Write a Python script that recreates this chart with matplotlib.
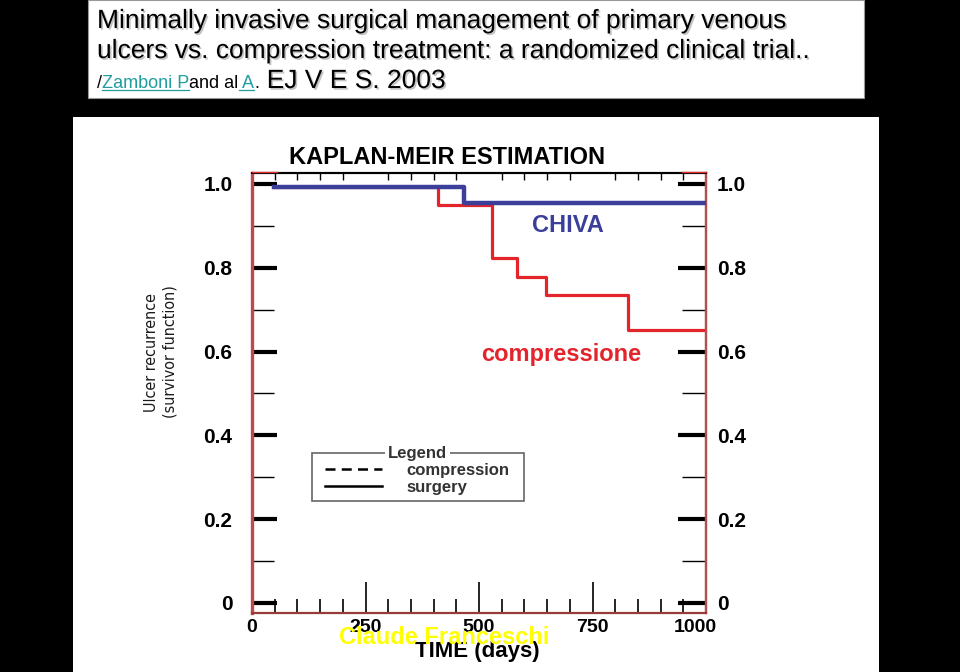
import matplotlib
matplotlib.use('Agg')
import matplotlib.pyplot as plt
import matplotlib.patheffects as pe
from matplotlib.patches import Rectangle
from matplotlib.lines import Line2D
from matplotlib.transforms import ScaledTranslation
from matplotlib import font_manager

W, H = 960, 672

# ---------------- data ----------------
chiva_days = [48, 467, 1000]
chiva_surv = [0.993, 0.955, 0.955]
comp_days = [48, 410, 529, 584, 648, 828, 993]
comp_surv = [0.993, 0.950, 0.823, 0.778, 0.735, 0.652, 0.652]

x_ticks = [0, 250, 500, 750, 1000]
x_tick_labels = ['0', '250', '500', '750', '1000']
x_minor = [50, 100, 150, 200, 300, 350, 400, 450, 550, 600, 650, 700,
           800, 850, 900, 950]
y_ticks = [0, 0.2, 0.4, 0.6, 0.8, 1.0]
y_tick_labels = ['0', '0.2', '0.4', '0.6', '0.8', '1.0']
y_minor = [0.1, 0.3, 0.5, 0.7, 0.9]

legend_labels = ['compression', 'surgery']
title_line1 = 'Minimally invasive surgical management of primary venous'
title_line2 = 'ulcers vs. compression treatment: a randomized clinical trial..'
plot_title = 'KAPLAN-MEIR ESTIMATION'
y_label = 'Ulcer recurrence\n(survivor function)'
x_label = 'TIME (days)'
watermark = 'Claude Franceschi'

BLUE = '#3b3f9a'
RED = '#e3242b'
TEAL = '#1f9e9e'

plt.rcParams['font.family'] = ['Liberation Sans', 'DejaVu Sans']


def fx(x):
    return x / W


def fy(y):
    return 1 - y / H


fig = plt.figure(figsize=(9.6, 6.72), dpi=100, facecolor='black')

# white panels
fig.add_artist(Rectangle((fx(88), fy(98)), (864 - 88) / W, 98 / H,
                         transform=fig.transFigure, facecolor='white',
                         edgecolor='#999999', lw=0.8, zorder=-5))
fig.add_artist(Rectangle((fx(73), fy(672)), (879 - 73) / W, (672 - 117) / H,
                         transform=fig.transFigure, facecolor='white',
                         edgecolor='none', zorder=-5))

shadow = [pe.SimplePatchShadow(offset=(1.2, -1.2), shadow_rgbFace='#888888',
                               alpha=0.5), pe.Normal()]

fig.text(fx(97), fy(28), title_line1, fontsize=19, color='black',
         va='baseline', ha='left', path_effects=shadow)
fig.text(fx(97), fy(58), title_line2, fontsize=19, color='black',
         va='baseline', ha='left', path_effects=shadow)

renderer = fig.canvas.get_renderer()
pieces = [('/', 13, 'black', False),
          ('Zamboni P', 13, TEAL, True),
          ('and al', 13, 'black', False),
          (' A', 13, TEAL, True),
          ('.', 13, 'black', False),
          (' EJ V E S. 2003', 19, 'black', False)]
xcur = 97
for txt, size, col, ul in pieces:
    t = fig.text(fx(xcur), fy(88), txt, fontsize=size, color=col,
                 va='baseline', ha='left',
                 path_effects=shadow if size > 14 else None)
    bb = t.get_window_extent(renderer=renderer)
    if ul:
        fig.add_artist(Line2D([bb.x0 / W, bb.x1 / W], [fy(90), fy(90)],
                              transform=fig.transFigure, color=col, lw=0.9))
    xcur += bb.width

# ---------------- axes ----------------
ax = fig.add_axes([fx(252), fy(613), (706 - 252) / W, (613 - 173) / H])
ax.set_facecolor('white')
ax.set_xlim(0, 1000)
ax.set_ylim(-0.024, 1.026)

ax.step(comp_days, comp_surv, where='post', color=RED, lw=2.3, zorder=2)
ax.step(chiva_days, chiva_surv, where='post', color=BLUE, lw=3.2, zorder=3)

ax.spines['left'].set_color('#c04a48')
ax.spines['left'].set_linewidth(2.4)
ax.spines['bottom'].set_color('#9a3a3a')
ax.spines['bottom'].set_linewidth(1.6)
ax.spines['right'].set_color('#b05050')
ax.spines['right'].set_linewidth(1.6)
ax.spines['top'].set_color('black')
ax.spines['top'].set_linewidth(1.5)

# red frame corners at top
for xs in ([0, 25 / 454], [1 - 24 / 454, 1]):
    ax.add_line(Line2D(xs, [1.003, 1.003], transform=ax.transAxes,
                       color='#e03030', lw=1.0, clip_on=False, zorder=6))

ax.set_xticks(x_ticks, x_tick_labels, fontweight='bold')
ax.set_xticks(x_minor, minor=True)
ax.tick_params(axis='x', which='major', direction='in', length=22, width=1.2,
               color='black', labelsize=14, pad=4, top=False)
ax.tick_params(axis='x', which='minor', direction='in', length=10, width=1.2,
               color='black', top=False)

ax.set_yticks(y_ticks, y_tick_labels, fontweight='bold')
ax.set_yticks(y_minor, minor=True)
ax.tick_params(axis='y', which='major', direction='in', length=18, width=3,
               color='black', labelsize=15, pad=14, right=False)
ax.tick_params(axis='y', which='minor', direction='in', length=16, width=1,
               color='black', right=False)

secy = ax.secondary_yaxis('right')
secy.set_yticks(y_ticks, y_tick_labels, fontweight='bold')
secy.set_yticks(y_minor, minor=True)
secy.tick_params(which='major', direction='in', length=20, width=3,
                 color='black', labelsize=15, pad=8)
secy.tick_params(which='minor', direction='in', length=17, width=1,
                 color='black')
secy.spines['right'].set_color('#b05050')
secy.spines['right'].set_linewidth(1.6)

secx = ax.secondary_xaxis('top')
secx.set_xticks(x_minor, [])
secx.tick_params(which='major', direction='in', length=5, width=1,
                 color='black')
secx.tick_params(which='minor', top=False)
secx.spines['top'].set_color('black')
secx.spines['top'].set_linewidth(1.5)

# shift the "1000" label a little to the left, as in the picture
lab = ax.get_xticklabels()[-1]
lab.set_transform(lab.get_transform() +
                  ScaledTranslation(-11 / 100, 0, fig.dpi_scale_trans))

# legend
handles = [Line2D([], [], color='black', ls=(0, (4, 2.5)), lw=1.8),
           Line2D([], [], color='black', lw=1.8)]
leg = ax.legend(handles, legend_labels, title='Legend', loc='upper left',
                bbox_to_anchor=(fx(325), fy(446)),
                bbox_transform=fig.transFigure, frameon=False,
                prop=dict(size=12, weight='bold'),
                title_fontproperties=dict(size=12, weight='bold'),
                handlelength=3.4, handletextpad=1.5,
                labelspacing=0.12, borderpad=0, borderaxespad=0)
leg.get_title().set_bbox(dict(facecolor='white', edgecolor='none', pad=2))
leg.get_title().set_color('#333333')
for t in leg.get_texts():
    t.set_color('#333333')
ax.add_patch(Rectangle((fx(312), fy(501)), 212 / W, 48 / H,
                       transform=fig.transFigure, fill=False,
                       edgecolor='#666666', lw=1.2, zorder=4, clip_on=False))

# annotation texts
fig.text(fx(447), fy(157), plot_title, fontsize=17, fontweight='bold',
         ha='center', va='center', color='black')
fig.text(fx(568), fy(226), 'CHIVA', fontsize=17, fontweight='bold',
         ha='center', va='center', color=BLUE)
fig.text(fx(561), fy(355), 'compressione', fontsize=17, fontweight='bold',
         ha='center', va='center', color=RED)

names = {f.name for f in font_manager.fontManager.ttflist}
if 'Liberation Sans Narrow' in names:
    yl_kw = dict(family=['Liberation Sans Narrow', 'DejaVu Sans'], fontsize=12.5)
else:
    yl_kw = dict(family=['DejaVu Sans'], fontstretch='condensed', fontsize=11.5)
fig.text(fx(161), fy(352), y_label, rotation=90, ha='center', va='center',
         color='#1a1a1a', linespacing=1.25, **yl_kw)

fig.text(fx(477), fy(652), x_label, fontsize=16, fontweight='bold',
         ha='center', va='center', color='black')
fig.text(fx(444), fy(637), watermark, fontsize=17, fontweight='bold',
         ha='center', va='center', color='#ffff00')

fig.savefig('out.png', dpi=100, facecolor='black')
